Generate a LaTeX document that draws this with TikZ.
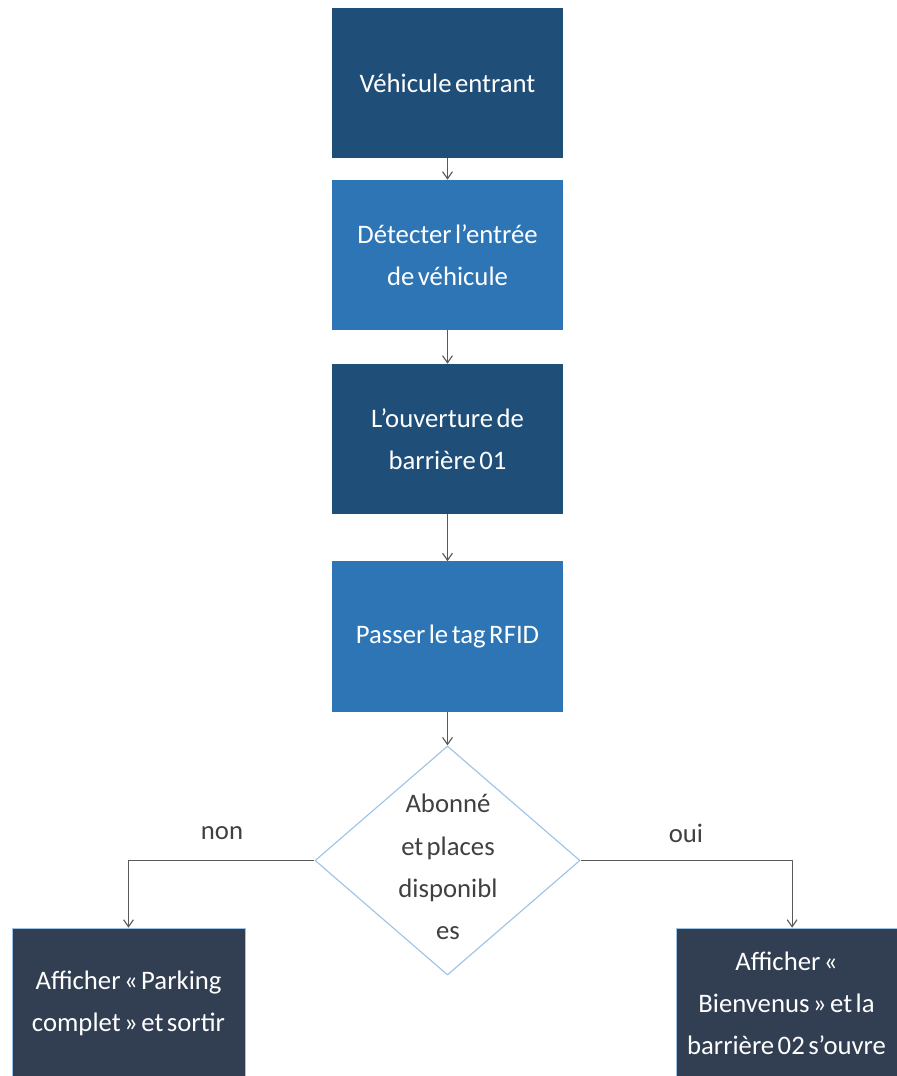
\documentclass[tikz,border=0pt]{standalone}
\usepackage{fontspec}
\setmainfont[WordSpace=0.55]{Carlito}
\usetikzlibrary{shapes.geometric,arrows.meta}
\definecolor{bleufonce}{HTML}{1F4E79}
\definecolor{bleu}{HTML}{2E75B6}
\definecolor{ardoise}{HTML}{323E52}
\definecolor{bleuclair}{HTML}{9DC3E6}
\definecolor{gristrait}{HTML}{595959}
\definecolor{gristexte}{HTML}{404040}
\newcommand\espaceserre{\spaceskip=0.13em\relax}
\tikzset{
	boite/.style={minimum width=5.775cm,minimum height=3.75cm,text width=5.6cm,align=center,text=white,inner sep=0pt,
		execute at begin node={\espaceserre}},
	fleche/.style={->,draw=gristrait,line width=0.8pt},
	etiquette/.style={text=gristexte}
}
\begin{document}
\begin{tikzpicture}[x=0.025cm,y=-0.025cm,line join=round,>={Straight Barb[length=5pt,width=7pt]},font=\fontsize{19}{30}\selectfont]
	\useasboundingbox (0,0) rectangle (896,1076);
	
	\node[boite,fill=bleufonce] (vehicule) at (447.5,83) {Véhicule entrant};
	\node[boite,fill=bleu] (detecter) at (447.5,255) {Détecter l’entrée\\de véhicule};
	\node[boite,fill=bleufonce] (ouverture) at (447.5,439) {L’ouverture de\\barrière 01};
	\node[boite,fill=bleu] (tag) at (447.5,636.5) {Passer le tag RFID};
	
	\node[diamond,draw=bleuclair,line width=0.8pt,minimum width=6.625cm,minimum height=5.725cm,inner sep=0pt] (abonne) at (447.5,860.5) {};
	\node[etiquette,align=center] (question) at (448,867) {Abonné\\et places\\disponibl\\es};
	
	\node[boite,fill=ardoise,draw=bleuclair,line width=0.4pt,minimum width=5.825cm] (complet) at (128.5,1003) {Afficher « Parking\\complet » et sortir};
	\node[boite,fill=ardoise,draw=bleuclair,line width=0.4pt,minimum width=5.525cm,text width=5.5cm] (bienvenue) at (786.5,1003) {Afficher «\\Bienvenus » et la\\barrière 02 s’ouvre};
	
	\draw[fleche] (vehicule) -- (detecter);
	\draw[fleche] (detecter) -- (ouverture);
	\draw[fleche] (ouverture) -- (tag);
	\draw[fleche] (tag) -- (abonne);
	\draw[fleche] (abonne.west) -| (complet.north);
	\draw[fleche] (abonne.east) -| ([xshift=0.14cm]bienvenue.north);
	
	\node[etiquette] (non) at (222,833) {non};
	\node[etiquette] (oui) at (686,833) {oui};
\end{tikzpicture}
\end{document}
